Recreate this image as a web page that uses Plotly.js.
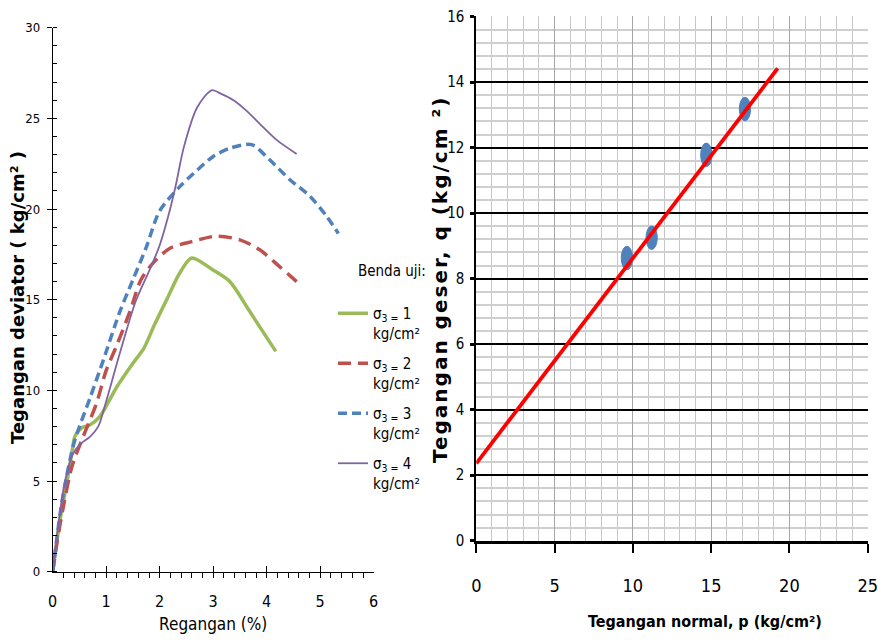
<!DOCTYPE html>
<html>
<head>
<meta charset="utf-8">
<script src="https://cdn.plot.ly/plotly-3.0.1.min.js"></script>
<style>
  html, body { margin: 0; padding: 0; background: #fff; }
  #chart { width: 878px; height: 641px; }
  /* narrow label text uses the condensed face of the family */
  #chart text[style*="Condensed"], #chart text[style*="Condensed"] tspan { font-stretch: condensed; }
  /* the shear-stress title is letter-spaced to fill the axis height */
  #chart g.annotation[data-index="3"] text { letter-spacing: 2px; }
</style>
</head>
<body>
<div id="chart"></div>
<script>
// Stress–strain curves (deviator stress vs. axial strain) for each confining pressure
const strainS1 = [0, 0.14, 0.26, 0.36, 0.42, 0.55, 0.7, 0.88, 1.2, 1.5, 1.7, 1.9, 2.13, 2.38, 2.6, 2.99, 3.31, 3.63, 3.87, 4.17];
const devS1    = [0, 2.9, 4.8, 6.6, 7.5, 7.95, 8.1, 8.55, 10.2, 11.5, 12.3, 13.6, 15.0, 16.5, 17.3, 16.65, 16.0, 14.6, 13.5, 12.15];

const strainS2 = [0, 0.08, 0.2, 0.36, 0.57, 0.82, 1.0, 1.2, 1.45, 1.65, 1.9, 2.2, 2.6, 3.05, 3.5, 3.87, 4.25, 4.56];
const devS2    = [0, 1.6, 3.6, 5.8, 7.45, 9.3, 11.1, 12.5, 14.4, 16.1, 17.1, 17.85, 18.2, 18.5, 18.3, 17.75, 16.8, 16.0];

const strainS3 = [0, 0.17, 0.38, 0.5, 0.7, 0.95, 1.25, 1.5, 1.75, 2.0, 2.38, 2.63, 3.0, 3.31, 3.72, 4.06, 4.44, 4.81, 5.12, 5.34];
const devS3    = [0, 3.8, 6.9, 8.0, 9.6, 11.7, 14.3, 16.1, 17.9, 19.9, 21.25, 21.95, 22.9, 23.35, 23.55, 22.7, 21.6, 20.7, 19.6, 18.65];

const strainS4 = [0, 0.1, 0.23, 0.38, 0.5, 0.7, 0.85, 1.0, 1.25, 1.55, 1.85, 2.0, 2.15, 2.3, 2.45, 2.7, 2.97, 3.15, 3.38, 3.63, 3.87, 4.19, 4.56];
const devS4    = [0, 2.5, 5.0, 6.5, 7.0, 7.45, 8.0, 9.4, 12.0, 14.9, 16.9, 18.0, 19.5, 21.3, 23.4, 25.6, 26.55, 26.35, 26.0, 25.4, 24.7, 23.8, 23.04];

const seriesNames = [
  'σ<sub>3 =</sub> 1<br>kg/cm²',
  'σ<sub>3 =</sub> 2<br>kg/cm²',
  'σ<sub>3 =</sub> 3<br>kg/cm²',
  'σ<sub>3 =</sub> 4<br>kg/cm²'
];

// p–q diagram: failure points and the fitted Kf line
const pFail = [9.62, 11.2, 14.69, 17.16];
const qFail = [8.63, 9.25, 11.78, 13.18];
const fitP  = [0, 19.25];
const fitQ  = [2.36, 14.42];

const narrow = '"DejaVu Sans Condensed", "Liberation Sans Narrow", "Liberation Sans", sans-serif';
const boldFont = '"DejaVu Sans", "Liberation Sans", Arial, sans-serif';

const W = 878, H = 641;
const px = v => v / W;
const py = v => (H - v) / H;

const curve = (x, y, name, color, width, dash, grp) => ({
  x: x, y: y, name: name, type: 'scatter', mode: 'lines',
  xaxis: 'x', yaxis: 'y', legendgroup: grp,
  line: { color: color, width: width, dash: dash, shape: 'spline', smoothing: 0.8 },
  hoverinfo: 'x+y'
});

const data = [
  curve(strainS1, devS1, seriesNames[0], '#9BBB59', 3.5, 'solid', 'g1'),
  curve(strainS2, devS2, seriesNames[1], '#C0504D', 3.5, '13px,7px', 'g2'),
  curve(strainS3, devS3, seriesNames[2], '#4F81BD', 3.5, '9px,5px', 'g3'),
  curve(strainS4, devS4, seriesNames[3], '#8064A2', 1.8, 'solid', 'g4'),
  {
    x: fitP, y: fitQ, type: 'scatter', mode: 'lines', xaxis: 'x2', yaxis: 'y2',
    line: { color: '#FF0000', width: 3.8 }, showlegend: false
  }
];

// failure points drawn as data-space circles (elliptical on screen due to axis scales)
const rPt = 0.36;
const pointShapes = pFail.map((p, i) => ({
  type: 'circle', xref: 'x2', yref: 'y2', layer: 'between',
  x0: p - rPt, x1: p + rPt, y0: qFail[i] - rPt, y1: qFail[i] + rPt,
  fillcolor: '#4F81BD', line: { color: '#4F81BD', width: 1 }
}));

const layout = {
  width: W, height: H,
  margin: { l: 0, r: 0, t: 0, b: 0 },
  paper_bgcolor: '#fff', plot_bgcolor: 'rgba(0,0,0,0)',
  font: { family: narrow, color: '#000', size: 15 },
  showlegend: true,
  legend: {
    x: px(333), y: py(297), xanchor: 'left', yanchor: 'top',
    font: { family: narrow, size: 15, color: '#000' },
    valign: 'top', tracegroupgap: 8, itemwidth: 30,
    bgcolor: 'rgba(0,0,0,0)'
  },
  xaxis: {
    domain: [px(52.7), px(373.7)], anchor: 'y',
    range: [0, 6], dtick: 1, tick0: 0,
    showgrid: false, zeroline: false,
    showline: true, linecolor: '#000', linewidth: 1,
    ticks: 'inside', ticklen: 6, tickcolor: '#000',
    minor: { dtick: 0.2, ticks: 'outside', ticklen: 5, tickcolor: '#000', showgrid: false },
    tickfont: { family: narrow, size: 16 },
    ticklabelstandoff: 15,
    title: { text: 'Regangan (%)', font: { family: narrow, size: 17 }, standoff: 8 }
  },
  yaxis: {
    domain: [py(571.7), py(27.7)], anchor: 'x',
    range: [0, 30], dtick: 5, tick0: 0,
    showgrid: false, zeroline: false,
    showline: true, linecolor: '#000', linewidth: 1,
    ticks: 'outside', ticklen: 5, tickcolor: '#000',
    minor: { dtick: 1, ticks: 'inside', ticklen: 4, tickcolor: '#000', showgrid: false },
    tickfont: { family: narrow, size: 13 },
    ticklabelstandoff: 4
  },
  xaxis2: {
    domain: [px(476.3), px(867.7)], anchor: 'y2',
    range: [0, 25], dtick: 5, tick0: 0,
    showgrid: true, gridcolor: '#a6a6a6', gridwidth: 1,
    zeroline: false,
    showline: true, linecolor: '#000', linewidth: 3,
    ticks: 'outside', ticklen: 9, tickwidth: 2, tickcolor: '#000',
    minor: { dtick: 1, showgrid: true, gridcolor: '#c6c6c6', gridwidth: 1, ticks: '' },
    tickfont: { family: narrow, size: 18 },
    ticklabeloverflow: 'allow',
    ticklabelstandoff: 18
  },
  yaxis2: {
    domain: [py(540.7), py(16)], anchor: 'x2',
    range: [0, 16.02], dtick: 2, tick0: 0,
    showgrid: true, gridcolor: '#000', gridwidth: 2,
    zeroline: false,
    showline: true, linecolor: '#000', linewidth: 2,
    ticks: 'outside', ticklen: 4, tickwidth: 3, tickcolor: '#000',
    minor: { dtick: 0.4, showgrid: true, gridcolor: '#cfcfcf', gridwidth: 2, ticks: '' },
    tickfont: { family: narrow, size: 15 },
    ticklabelstandoff: 3
  },
  shapes: pointShapes,
  annotations: [
    {
      text: 'Benda uji:', xref: 'paper', yref: 'paper',
      x: px(392), y: py(271), xanchor: 'center', yanchor: 'middle',
      showarrow: false, font: { family: narrow, size: 15, color: '#000' }
    },
    {
      text: '<b>Tegangan normal, p (kg/cm²)</b>', xref: 'paper', yref: 'paper',
      x: px(705), y: py(621), xanchor: 'center', yanchor: 'middle',
      showarrow: false, font: { family: narrow, size: 16, color: '#000' }
    },
    {
      text: '<b>Tegangan deviator ( kg/cm² )</b>', xref: 'paper', yref: 'paper',
      x: px(17), y: py(298), xanchor: 'center', yanchor: 'middle', textangle: -90,
      showarrow: false, font: { family: boldFont, size: 18, color: '#000' }
    },
    {
      text: '<b>Tegangan geser, q (kg/cm ²)</b>', xref: 'paper', yref: 'paper',
      x: px(440), y: py(280), xanchor: 'center', yanchor: 'middle', textangle: -90,
      showarrow: false, font: { family: boldFont, size: 20, color: '#000' }
    }
  ]
};

Plotly.newPlot('chart', data, layout, { displayModeBar: false, staticPlot: true });
</script>
</body>
</html>
